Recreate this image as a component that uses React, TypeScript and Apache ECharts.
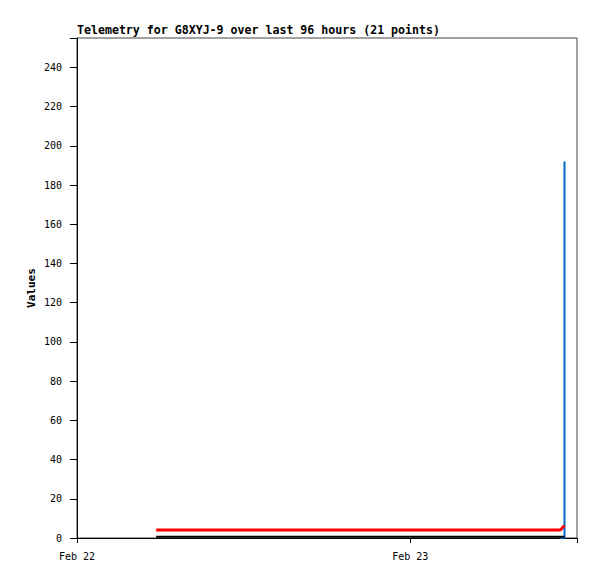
import React, { useEffect, useRef } from "react";
import * as echarts from "echarts";

// hours since Feb 22 00:00
const hours = [5.7, 7.2, 8.6, 10.1, 11.6, 13.0, 14.5, 16.0, 17.4, 18.9, 20.4, 21.8, 23.3, 24.8, 26.2, 27.7, 29.2, 30.6, 32.1, 34.8, 35.1];
const redValues = [4.1, 4.1, 4.1, 4.1, 4.1, 4.1, 4.1, 4.1, 4.1, 4.1, 4.1, 4.1, 4.1, 4.1, 4.1, 4.1, 4.1, 4.1, 4.1, 4.1, 6.4];
const blackValues = [0.6, 0.6, 0.6, 0.6, 0.6, 0.6, 0.6, 0.6, 0.6, 0.6, 0.6, 0.6, 0.6, 0.6, 0.6, 0.6, 0.6, 0.6, 0.6, 0.6, 0.6];
const blueValues: (number | null)[] = [null, null, null, null, null, null, null, null, null, null, null, null, null, null, null, null, null, null, null, 0, 192];
const dayLabels = ["Feb 22", "Feb 23"];
const titleText = "Telemetry for G8XYJ-9 over last 96 hours (21 points)";

const mono = "DejaVu Sans Mono";

export default function App() {
  const ref = useRef<HTMLDivElement>(null);
  useEffect(() => {
    if (!ref.current) return;
    const chart = echarts.init(ref.current, undefined, { renderer: "svg" });
    const pair = (vals: (number | null)[]) => hours.map((h, i) => [h, vals[i]]);
    chart.setOption({
      animation: false,
      backgroundColor: "#fff",
      title: {
        text: titleText,
        left: 64,
        top: 11,
        padding: 5,
        textStyle: { fontFamily: mono, fontSize: 11.6, fontWeight: "bold", color: "#000" },
      },
      grid: { left: 69, right: 12, top: 30, bottom: 33, show: true, borderColor: "#444", borderWidth: 1 },
      xAxis: {
        type: "value",
        min: 0,
        max: 36,
        interval: 24,
        axisLine: { show: true, lineStyle: { color: "#000", width: 1 } },
        axisTick: { show: true, length: 5, lineStyle: { color: "#000" } },
        splitLine: { show: false },
        axisLabel: {
          margin: 13,
          fontFamily: mono,
          fontSize: 10,
          color: "#000",
          formatter: (v: number) => dayLabels[Math.round(v / 24)] ?? "",
        },
      },
      yAxis: {
        type: "value",
        min: 0,
        max: 255,
        interval: 20,
        name: "Values",
        nameLocation: "middle",
        nameGap: 40,
        nameMoveOverlap: false,
        nameTextStyle: { fontFamily: mono, fontSize: 11, fontWeight: "bold", color: "#000" },
        axisLine: { show: true, lineStyle: { color: "#000", width: 1 } },
        axisTick: { show: true, length: 7, lineStyle: { color: "#000" } },
        splitLine: { show: false },
        axisLabel: {
          margin: 15,
          fontFamily: mono,
          fontSize: 10,
          color: "#000",
          formatter: (v: number) => (v > 250 ? "" : String(v)),
        },
      },
      series: [
        {
          type: "line",
          data: pair(blueValues),
          step: "end",
          showSymbol: false,
          lineStyle: { color: "#0066cc", width: 2 },
          z: 2,
        },
        {
          type: "line",
          data: pair(redValues),
          showSymbol: false,
          lineStyle: { color: "#ff0000", width: 3 },
          z: 3,
        },
        {
          type: "line",
          data: pair(blackValues),
          showSymbol: false,
          lineStyle: { color: "#000", width: 2 },
          z: 4,
        },
      ],
    });
    return () => chart.dispose();
  }, []);
  return <div ref={ref} style={{ width: 581, height: 563 }} />;
}
